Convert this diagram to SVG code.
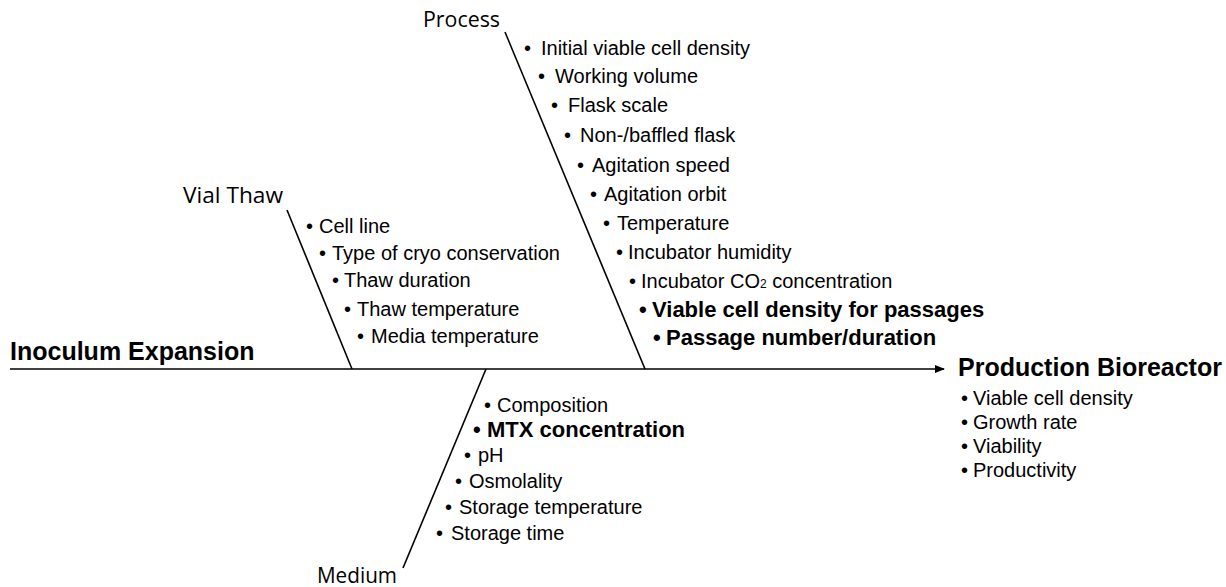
<svg xmlns="http://www.w3.org/2000/svg" width="1226" height="587" viewBox="0 0 1226 587">
<style>
.bg{fill:#fff}
.ln{stroke:#000;stroke-width:1.6;fill:none}
.cat{font-family:"Open Sans","Liberation Sans",sans-serif;font-size:21.5px;fill:#000;text-anchor:end}
.head{font-family:"Liberation Sans",Arial,sans-serif;font-size:25px;font-weight:bold;fill:#000}
.it{font-family:"Liberation Sans",Arial,sans-serif;font-size:20px;fill:#000}
.b{font-weight:bold;font-size:22px}
.sub{font-size:12px}
</style>
<defs>
<marker id="arr" markerWidth="10" markerHeight="8" refX="9" refY="4" orient="auto" markerUnits="userSpaceOnUse">
<path d="M0,0 L10,4 L0,8 Z" fill="#000"/>
</marker>
</defs>
<rect class="bg" x="0" y="0" width="1226" height="587"/>
<g id="connectors">
<line class="ln" x1="10" y1="369" x2="944" y2="369" marker-end="url(#arr)"/>
<line class="ln" x1="505" y1="32" x2="645" y2="369"/>
<line class="ln" x1="287" y1="210" x2="352" y2="369"/>
<line class="ln" x1="486" y1="369" x2="403" y2="568"/>
</g>
<g id="inoculum">
<text class="head" x="10" y="360">Inoculum Expansion</text>
</g>
<g id="process">
<text class="cat" x="500" y="27" textLength="77" lengthAdjust="spacingAndGlyphs">Process</text>
<g class="it">
<text x="524" y="55">•</text><text x="541" y="55">Initial viable cell density</text>
<text x="538" y="83">•</text><text x="555" y="83">Working volume</text>
<text x="551" y="112">•</text><text x="568" y="112">Flask scale</text>
<text x="564" y="142">•</text><text x="580" y="142">Non-/baffled flask</text>
<text x="577" y="172">•</text><text x="592" y="172">Agitation speed</text>
<text x="590" y="201">•</text><text x="604" y="201">Agitation orbit</text>
<text x="603" y="230">•</text><text x="617" y="230">Temperature</text>
<text x="616" y="259">•</text><text x="628" y="259">Incubator humidity</text>
<text x="629" y="288">•</text><text x="641" y="288">Incubator CO<tspan class="sub">2</tspan> concentration</text>
<text x="639" y="317" class="b">•</text><text x="652" y="317" class="b">Viable cell density for passages</text>
<text x="653" y="345" class="b">•</text><text x="666" y="345" class="b">Passage number/duration</text>
</g>
</g>
<g id="vialthaw">
<text class="cat" x="283" y="203" textLength="100" lengthAdjust="spacingAndGlyphs">Vial Thaw</text>
<g class="it">
<text x="306" y="233">•</text><text x="319" y="233">Cell line</text>
<text x="319" y="260">•</text><text x="332" y="260">Type of cryo conservation</text>
<text x="332" y="287">•</text><text x="344" y="287">Thaw duration</text>
<text x="344" y="316">•</text><text x="357" y="316">Thaw temperature</text>
<text x="357" y="343">•</text><text x="371" y="343">Media temperature</text>
</g>
</g>
<g id="medium">
<text class="cat" x="397" y="583" textLength="80" lengthAdjust="spacingAndGlyphs">Medium</text>
<g class="it">
<text x="484" y="412">•</text><text x="497" y="412">Composition</text>
<text x="473" y="437" class="b">•</text><text x="487" y="437" class="b">MTX concentration</text>
<text x="464" y="462">•</text><text x="478" y="462">pH</text>
<text x="455" y="488">•</text><text x="469" y="488">Osmolality</text>
<text x="445" y="514">•</text><text x="459" y="514">Storage temperature</text>
<text x="436" y="540">•</text><text x="451" y="540">Storage time</text>
</g>
</g>
<g id="production">
<text class="head" x="958" y="376">Production Bioreactor</text>
<g class="it">
<text x="961" y="405">•</text><text x="973" y="405">Viable cell density</text>
<text x="961" y="429">•</text><text x="973" y="429">Growth rate</text>
<text x="961" y="453">•</text><text x="973" y="453">Viability</text>
<text x="961" y="477">•</text><text x="973" y="477">Productivity</text>
</g>
</g>
</svg>
